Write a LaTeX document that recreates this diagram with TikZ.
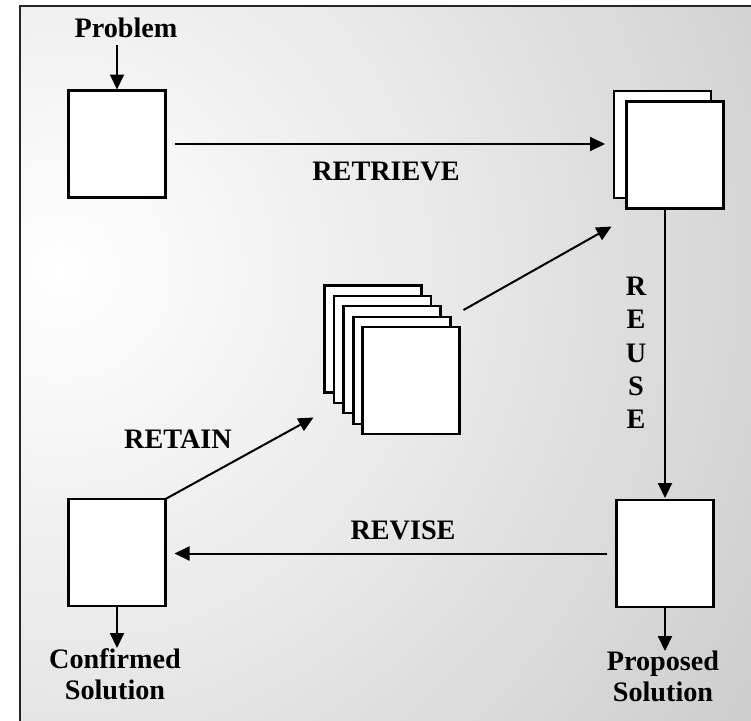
\documentclass[tikz,border=0pt]{standalone}
\usepackage{fontspec}
\setmainfont{Liberation Serif}
\usetikzlibrary{arrows.meta}
% soft light glow behind the cycle, fading to a mid grey
\pgfdeclareradialshading{softglow}{\pgfpoint{0bp}{0bp}}{%
  color(0bp)=(white); color(10bp)=(white!91!black);
  color(20bp)=(white!81!black); color(32bp)=(white!75!black);
  color(50bp)=(white!75!black)}

\begin{document}
\begin{tikzpicture}[x=1pt,y=-1pt,
  card/.style={draw=black, fill=white, line width=2.4pt,
    minimum width=97pt, minimum height=107pt, inner sep=0pt, outer sep=0pt},
  lbl/.style={font=\bfseries\fontsize{28.2}{31}\selectfont, inner sep=0pt, align=center},
  flow/.style={line width=2pt, -{Triangle[length=15pt,width=14pt]}}]
\useasboundingbox (0,0) rectangle (751,720);

% background panel
\begin{scope}
  \clip (20,6) rectangle (780,740);
  \shade[shading=softglow] (60,270) circle[radius=1000];
\end{scope}
\draw[line width=2.2pt, draw=black!85] (20,6) rectangle (780,740);

% cases
\node[card] (prob) at (117,144) {};
\node[card] (ret1) at (662.5,144.5) {};
\node[card] (ret2) at (675,155) {};
\node[card] (stack1) at (373,339) {};
\node[card] (stack2) at (382.5,349.5) {};
\node[card] (stack3) at (392,359.5) {};
\node[card] (stack4) at (402,370.5) {};
\node[card] (stack5) at (411,380.5) {};
\node[card] (prop) at (665,553.5) {};
\node[card] (conf) at (117,552.5) {};

% labels
\node[lbl, anchor=base] (problem) at (126,37) {Problem};
\node[lbl, anchor=base] (retrieve) at (386,180) {RETRIEVE};
\node[lbl, anchor=base] (revise) at (403,539) {REVISE};
\node[lbl, anchor=base] (retain) at (178,448) {RETAIN};
\node[lbl, font=\bfseries\fontsize{28.2}{33.2}\selectfont, anchor=north] (reuse) at (636,277) {R\\E\\U\\S\\E};
\node[lbl, anchor=north] (plabel) at (663,651) {Proposed\\Solution};
\node[lbl, anchor=north] (clabel) at (115,648) {Confirmed\\Solution};

% cycle
\draw[flow, shorten <=8pt, shorten >=1pt] (prob.north |- problem.south) -- (prob.north);
\draw[flow, shorten <=9pt, shorten >=9pt] (prob.east) -- (prob.east -| ret1.west);
\draw[flow, shorten >=2pt] (ret2.south -| prop.north) -- (prop.north);
\draw[flow] (prop.south) -- (prop.south |- plabel.north);
\draw[flow, shorten <=10pt, shorten >=9pt] (prop.west) -- (prop.west -| conf.east);
\draw[flow] (conf.south) -- (conf.south |- clabel.north);
\draw[flow] (conf.north east) -- ([shift={(-11,25)}]stack1.south west);
\draw[flow] ([shift={(4,-17)}]stack5.north east) -- ([shift={(-15,18)}]ret2.south west);
\end{tikzpicture}
\end{document}
